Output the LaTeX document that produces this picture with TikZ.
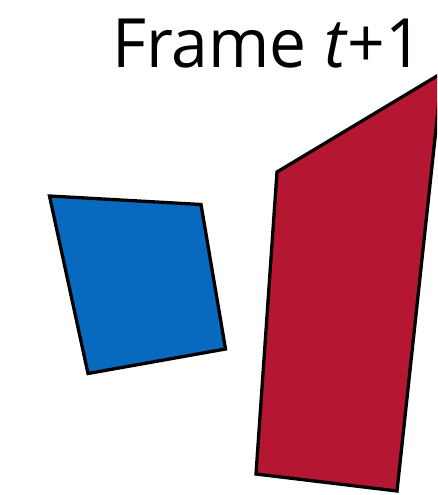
\documentclass[tikz,border=0pt]{standalone}
\usepackage{fontspec}
\setmainfont{Open Sans}
\definecolor{qblue}{RGB}{8,106,190}
\definecolor{qred}{RGB}{181,23,50}
\begin{document}
\begin{tikzpicture}[x=1pt,y=-1pt,
  quad/.style={draw=black,line width=3.3pt,line join=miter}]
\useasboundingbox (0,0) rectangle (437,495);
\clip (0,0) rectangle (437,495);
\fill[white] (0,0) rectangle (437,495);
\draw[quad,fill=qblue] (49.5,196) -- (201,204.5) -- (225.5,349) -- (88,373.5) -- cycle;
\draw[quad,fill=qred] (277,172) -- (442,73) -- (397,491) -- (256,474) -- cycle;
\node[anchor=base west,inner sep=0pt,font=\fontsize{68}{70}\selectfont] (title) at (112,67) {\scalebox{0.97}[1]{Frame \textit{t}+1}};
\end{tikzpicture}
\end{document}
